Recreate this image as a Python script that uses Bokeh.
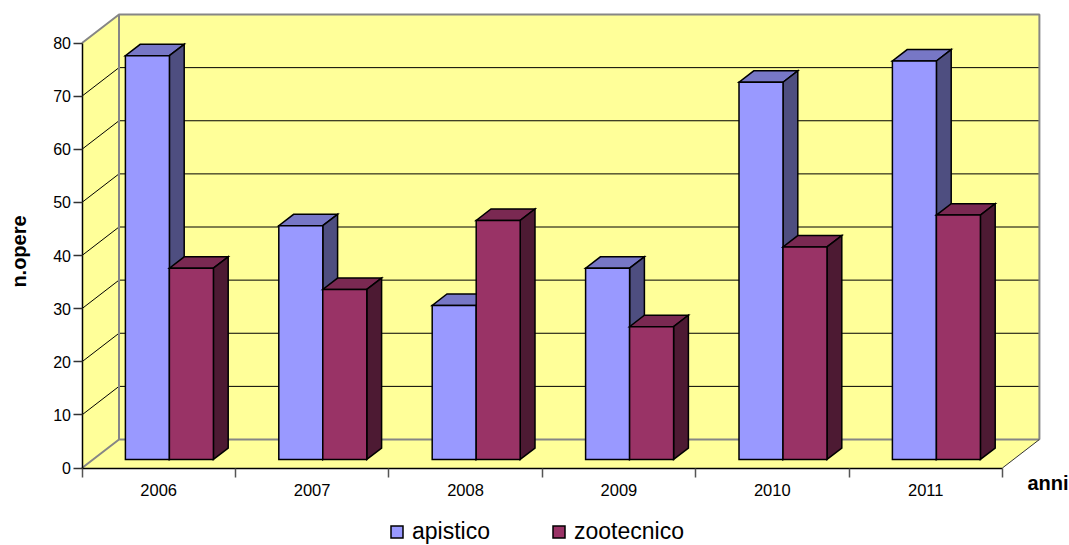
from bokeh.plotting import figure
from bokeh.models import (FixedTicker, Label, Legend, LegendItem, LinearAxis,
                          Range1d)
from bokeh.embed import file_html
from bokeh.resources import INLINE

# Values per year
years = ["2006", "2007", "2008", "2009", "2010", "2011"]
apistico = [76, 44, 29, 36, 71, 75]
zootecnico = [36, 32, 45, 25, 40, 46]
value_ticks = [0, 10, 20, 30, 40, 50, 60, 70, 80]

FONT = "Liberation Sans"
W, H = 1069, 545

# Pixels per data unit and the location of the origin on the page
X_UNIT, Y_UNIT = 153.4, 5.3125
ORIGIN_X, ORIGIN_Y = 81.5, 467.5

# Oblique projection: how far one full depth of the box shifts a point
SHIFT_X, SHIFT_Y = 37 / X_UNIT, 28.5 / Y_UNIT
BAR_NEAR, BAR_FAR = 0.30, 0.70
GAP = 32.3 / X_UNIT
BAR_W = 44 / X_UNIT


def at(x, y, d=0.0):
    return x + d * SHIFT_X, y + d * SHIFT_Y


def poly(points):
    return [pt[0] for pt in points], [pt[1] for pt in points]


p = figure(width=W, height=H, output_backend="svg", toolbar_location=None,
           min_border=0, outline_line_color=None,
           x_range=Range1d(-ORIGIN_X / X_UNIT, (W - ORIGIN_X) / X_UNIT),
           y_range=Range1d(-(H - ORIGIN_Y) / Y_UNIT, ORIGIN_Y / Y_UNIT),
           x_axis_type=None, y_axis_type=None)
p.xgrid.visible = False
p.ygrid.visible = False

n = len(years)
top = value_ticks[-1]
YELLOW = "#FFFF99"
WALL_EDGE = "#868686"

# Walls of the box
walls_xs, walls_ys = [], []
for shape in (
    [at(0, 0, 1), at(n, 0, 1), at(n, top, 1), at(0, top, 1)],
    [at(0, 0), at(0, 0, 1), at(0, top, 1), at(0, top)],
    [at(0, 0), at(n, 0), at(n, 0, 1), at(0, 0, 1)],
):
    xs, ys = poly(shape)
    walls_xs.append(xs)
    walls_ys.append(ys)
p.patches(walls_xs, walls_ys, fill_color=YELLOW, line_color=None)

# Gridlines run along the side wall and across the back wall
grid_xs, grid_ys = [], []
for v in value_ticks[1:-1]:
    xs, ys = poly([at(0, v), at(0, v, 1), at(n, v, 1)])
    grid_xs.append(xs)
    grid_ys.append(ys)
p.multi_line(grid_xs, grid_ys, line_color="#000000", line_width=1)

# Edges of the box
edge_xs, edge_ys = poly([at(0, 0), at(0, 0, 1), at(n, 0, 1)])
p.line(edge_xs, edge_ys, line_color=WALL_EDGE, line_width=2)
edge_xs, edge_ys = poly([at(0, top), at(0, top, 1), at(n, top, 1), at(n, 0, 1)])
p.line(edge_xs, edge_ys, line_color=WALL_EDGE, line_width=2)
edge_xs, edge_ys = poly([at(0, 0, 1), at(0, top, 1)])
p.line(edge_xs, edge_ys, line_color=WALL_EDGE, line_width=2)
edge_xs, edge_ys = poly([at(n, 0), at(n, 0, 1)])
p.line(edge_xs, edge_ys, line_color="#333333", line_width=1)


def draw_series(values, offset, front, roof, side):
    fronts, tops, sides = ([], []), ([], []), ([], [])
    for i, v in enumerate(values):
        x0 = i + GAP + offset * BAR_W
        x1 = x0 + BAR_W
        for bucket, shape in (
            (fronts, [at(x0, 0, BAR_NEAR), at(x1, 0, BAR_NEAR),
                      at(x1, v, BAR_NEAR), at(x0, v, BAR_NEAR)]),
            (tops, [at(x0, v, BAR_NEAR), at(x1, v, BAR_NEAR),
                    at(x1, v, BAR_FAR), at(x0, v, BAR_FAR)]),
            (sides, [at(x1, 0, BAR_NEAR), at(x1, 0, BAR_FAR),
                     at(x1, v, BAR_FAR), at(x1, v, BAR_NEAR)]),
        ):
            xs, ys = poly(shape)
            bucket[0].append(xs)
            bucket[1].append(ys)
    style = dict(line_color="#000000", line_width=1.5, line_join="miter")
    p.patches(tops[0], tops[1], fill_color=roof, **style)
    p.patches(sides[0], sides[1], fill_color=side, **style)
    return p.patches(fronts[0], fronts[1], fill_color=front, **style)


r_api = draw_series(apistico, 0, "#9999FF", "#7777C6", "#4E4E80")
r_zoo = draw_series(zootecnico, 1, "#993366", "#7A2952", "#4D1A33")

# Axes sit on the front edge of the box
y_axis = LinearAxis(fixed_location=0, bounds=(0, top),
                    ticker=FixedTicker(ticks=value_ticks))
y_axis.axis_line_color = "#000000"
y_axis.axis_line_width = 1.5
y_axis.major_tick_line_color = "#333333"
y_axis.major_tick_line_width = 1.5
y_axis.major_tick_out = 9
y_axis.major_tick_in = 0
y_axis.minor_tick_line_color = None
y_axis.major_label_standoff = 2
y_axis.major_label_text_font = FONT
y_axis.major_label_text_font_size = "16px"
y_axis.major_label_text_color = "#000000"
p.add_layout(y_axis, "left")

centers = [i + 0.5 for i in range(n)]
x_axis = LinearAxis(fixed_location=0, bounds=(0, n),
                    ticker=FixedTicker(ticks=centers,
                                       minor_ticks=list(range(n + 1))))
x_axis.major_label_overrides = {c: y for c, y in zip(centers, years)}
x_axis.axis_line_color = "#000000"
x_axis.axis_line_width = 1.5
x_axis.major_tick_line_color = None
x_axis.major_tick_in = 0
x_axis.major_tick_out = 0
x_axis.minor_tick_line_color = "#555555"
x_axis.minor_tick_line_width = 1.5
x_axis.minor_tick_out = 9
x_axis.minor_tick_in = 0
x_axis.major_label_standoff = 7
x_axis.major_label_text_font = FONT
x_axis.major_label_text_font_size = "16.5px"
x_axis.major_label_text_color = "#000000"
p.add_layout(x_axis, "below")

# Axis titles
p.add_layout(Label(x=1047.5, y=H - 482, x_units="screen", y_units="screen",
                   text="anni", text_font=FONT, text_font_style="bold",
                   text_font_size="20px", text_align="center",
                   text_baseline="middle", text_color="#000000"))
p.add_layout(Label(x=18, y=H - 251, x_units="screen", y_units="screen",
                   text="n.opere", text_font=FONT, text_font_style="bold",
                   text_font_size="20px", text_align="center",
                   text_baseline="middle", angle=90, angle_units="deg",
                   text_color="#000000"))

legend = Legend(
    items=[LegendItem(label="apistico", renderers=[r_api]),
           LegendItem(label="zootecnico", renderers=[r_zoo])],
    orientation="horizontal", location=(389, 0),
    background_fill_alpha=0, border_line_color=None,
    glyph_width=15, glyph_height=15, label_standoff=8, spacing=61,
    padding=0, margin=0,
    label_text_font=FONT, label_text_font_size="23px",
    label_text_color="#000000",
)
p.add_layout(legend, "center")

open("out.html", "w").write(file_html(p, INLINE))
